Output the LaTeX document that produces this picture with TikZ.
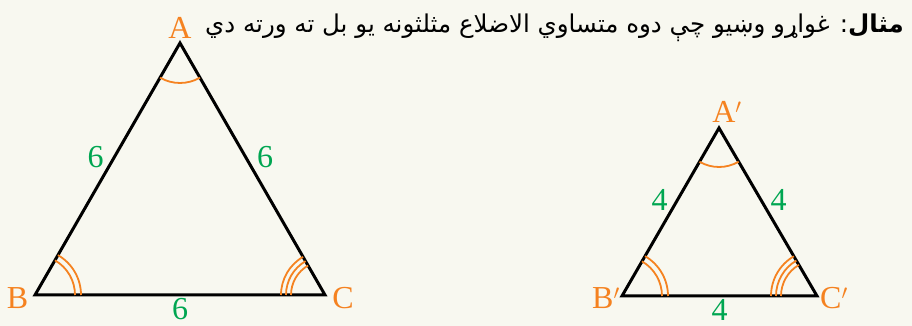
\documentclass[tikz,border=0pt]{standalone}
\usepackage{fontspec}
\setmainfont{Liberation Serif}
\newfontfamily\arabicfont[Script=Arabic]{DejaVu Sans}
\TeXXeTstate=1
\usetikzlibrary{angles}
\definecolor{vertexorange}{RGB}{245,130,32}
\definecolor{sidegreen}{RGB}{0,166,81}
\definecolor{papercream}{RGB}{248,248,240}

\begin{document}
\begin{tikzpicture}[x=1pt, y=1pt,
  edge/.style={line width=3pt},
  anglemark/.style={draw=vertexorange, line width=1.8pt},
  vlabel/.style={text=vertexorange, inner sep=0pt, font=\fontsize{32}{32}\selectfont},
  slabel/.style={text=sidegreen, inner sep=0pt, font=\fontsize{32}{32}\selectfont}]
  % Background sheet fixes the picture size
  \fill[papercream] (0,0) rectangle (912,326);
  \useasboundingbox (0,0) rectangle (912,326);

  % Title line
  \node[anchor=base east, inner sep=0pt, font=\fontsize{24.5}{24.5}\selectfont] (title) at (904,293)
    {\arabicfont\beginR{\bfseries مثال}: غواړو وښيو چې دوه متساوي الاضلاع مثلثونه يو بل ته ورته دي\endR};

  % Large triangle corners
  \coordinate (A) at (180,283);  % apex
  \coordinate (B) at (35,31);    % bottom left
  \coordinate (C) at (325,31);   % bottom right

  % Small triangle corners
  \coordinate (A') at (719,198); % apex
  \coordinate (B') at (622,30);  % bottom left
  \coordinate (C') at (817,30);  % bottom right

  % Sides
  \draw[edge] (A) -- (B) -- (C) -- cycle;
  \draw[edge] (A') -- (B') -- (C') -- cycle;

  % Angle marks: one arc at the apex, two at left, three at right
  \path pic[anglemark, angle radius=40pt] {angle=B--A--C};
  \foreach \r in {40,46} {
    \path pic[anglemark, angle radius=\r pt] {angle=C--B--A};
  }
  \foreach \r in {34,39,44} {
    \path pic[anglemark, angle radius=\r pt] {angle=A--C--B};
  }
  \path pic[anglemark, angle radius=39pt] {angle=B'--A'--C'};
  \foreach \r in {40,46} {
    \path pic[anglemark, angle radius=\r pt] {angle=C'--B'--A'};
  }
  \foreach \r in {36,41,46} {
    \path pic[anglemark, angle radius=\r pt] {angle=A'--C'--B'};
  }

  % Corner letters
  \node[vlabel] (labA) at (180,298) {A};
  \node[vlabel] (labB) at (17.5,28) {B};
  \node[vlabel] (labC) at (343,28) {C};
  \node[vlabel] (labA') at (727,214) {A$'$};
  \node[vlabel] (labB') at (606,28) {B$'$};
  \node[vlabel] (labC') at (834,28) {C$'$};

  % Side lengths
  \node[slabel] (sAB) at (95.5,169) {6};
  \node[slabel] (sAC) at (265,169) {6};
  \node[slabel] (sBC) at (180,16.5) {6};
  \node[slabel] (sA'B') at (659.5,126) {4};
  \node[slabel] (sA'C') at (778.5,126) {4};
  \node[slabel] (sB'C') at (719.5,16.5) {4};
\end{tikzpicture}
\end{document}
